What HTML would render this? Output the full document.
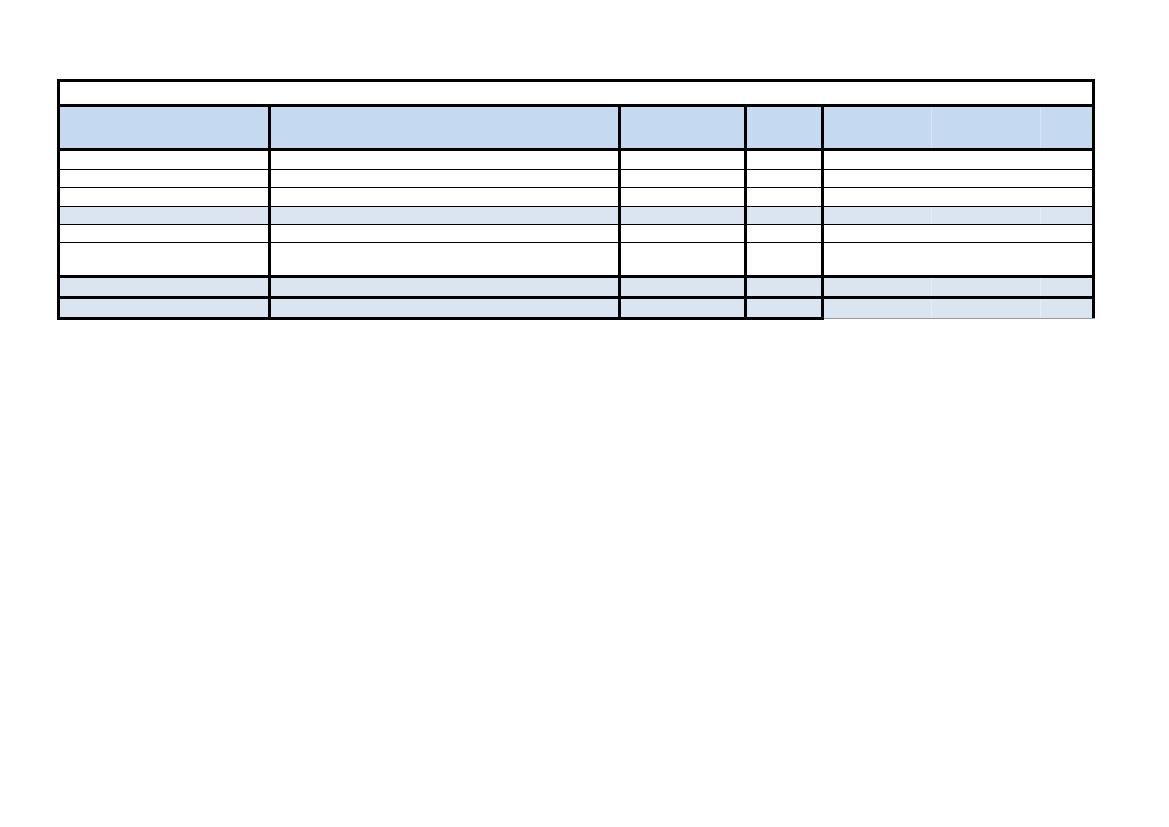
<!DOCTYPE html>
<html><head><meta charset="utf-8"><style>
body{margin:0;width:1169px;height:827px;background:#fff;position:relative;overflow:hidden}
div{position:absolute}
.k{background:#000}
</style></head><body>
<div style="left:58px;top:106px;width:1036px;height:43px;background:#c5d9f1"></div>
<div style="left:58px;top:206px;width:1036px;height:18px;background:#dbe5f1"></div>
<div style="left:58px;top:277px;width:1036px;height:41px;background:#dbe5f1"></div>
<div style="left:931px;top:106px;width:1px;height:43px;background:#d6e4f5"></div>
<div style="left:1040px;top:106px;width:1px;height:43px;background:#d6e4f5"></div>
<div style="left:931px;top:206px;width:1px;height:18px;background:#e6edf6"></div>
<div style="left:1040px;top:206px;width:1px;height:18px;background:#e6edf6"></div>
<div style="left:931px;top:277px;width:1px;height:41px;background:#e6edf6"></div>
<div style="left:1040px;top:277px;width:1px;height:41px;background:#e6edf6"></div>
<!-- horizontal -->
<div class="k" style="left:57px;top:79px;width:1038px;height:3px"></div>
<div class="k" style="left:57px;top:104px;width:1038px;height:3px"></div>
<div class="k" style="left:57px;top:148px;width:1038px;height:3px"></div>
<div class="k" style="left:57px;top:169px;width:1038px;height:1px"></div>
<div class="k" style="left:57px;top:187px;width:1038px;height:1px"></div>
<div class="k" style="left:57px;top:206px;width:1038px;height:1px"></div>
<div class="k" style="left:57px;top:224px;width:1038px;height:1px"></div>
<div class="k" style="left:57px;top:242px;width:1038px;height:1px"></div>
<div class="k" style="left:57px;top:275px;width:1038px;height:3px"></div>
<div class="k" style="left:57px;top:296px;width:1038px;height:3px"></div>
<div class="k" style="left:57px;top:317px;width:767px;height:3px"></div>
<div style="left:824px;top:318px;width:271px;height:1px;background:#999"></div>
<!-- vertical -->
<div class="k" style="left:57px;top:79px;width:3px;height:241px"></div>
<div class="k" style="left:1092px;top:79px;width:3px;height:239px"></div>
<div class="k" style="left:268px;top:104px;width:3px;height:216px"></div>
<div class="k" style="left:618px;top:104px;width:3px;height:216px"></div>
<div class="k" style="left:744px;top:104px;width:3px;height:216px"></div>
<div class="k" style="left:821px;top:104px;width:3px;height:216px"></div>
</body></html>
